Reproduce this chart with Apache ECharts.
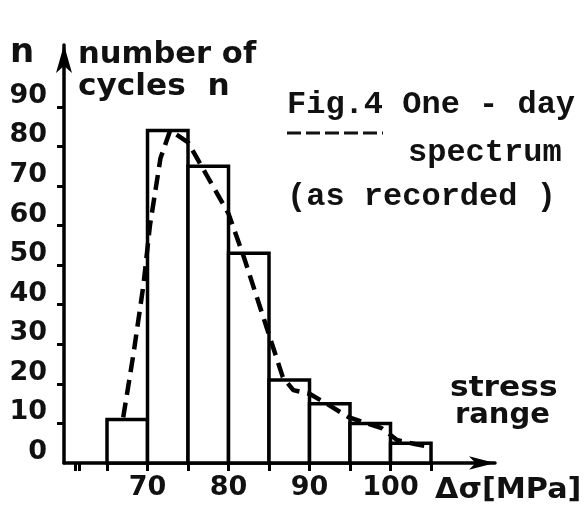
<!DOCTYPE html>
<html><head><meta charset="utf-8">
<script src="https://cdn.jsdelivr.net/npm/echarts@6/dist/echarts.min.js"></script>
<style>html,body{margin:0;padding:0;background:#fff}#c{width:584px;height:513px}</style>
</head><body><div id="c"></div>
<script>
// histogram bins (stress range, MPa) and number of cycles
const binStart = [65, 70, 75, 80, 85, 90, 95, 100];
const binEnd   = [70, 75, 80, 85, 90, 95, 100, 105];
const counts   = [11, 84, 75, 53, 21, 15, 10, 5];
// dashed spectrum curve (as recorded)
const dashX = [67, 68.3, 69.5, 70.3, 71.6, 72.8, 75, 77.5, 80, 81.9, 84.7, 86.7, 88, 90, 92.5, 94.8, 98.9, 100.8, 103, 105];
const dashY = [11.5, 28, 45, 60, 77, 84, 81, 72, 63, 52, 34.3, 21.7, 18.4, 17.5, 14.5, 11.6, 8.8, 5.8, 4.8, 4];
// axis ticks / labels
const xTickValues  = [61.1, 61.6, 65, 70, 75, 80, 85, 90, 95, 100, 105];
const xLabelValues = [70, 80, 90, 100];
const yTickValues  = [10, 20, 30, 40, 50, 60, 70, 80, 90];
const yLabelValues = [0, 10, 20, 30, 40, 50, 60, 70, 80, 90];

const SANS = '"DejaVu Sans", sans-serif';
const MONO = '"Liberation Mono", monospace';
const chart = echarts.init(document.getElementById('c'), null, {renderer: 'canvas'});

function txt(text, x, y, size, family, scaleX, weight) {
  return {
    type: 'text', x: x, y: y, scaleX: scaleX || 1, z: 100,
    style: {text: text, x: 0, y: 0, fill: '#111', font: (weight || 'normal') + ' ' + size + 'px ' + family,
            textAlign: 'left', textVerticalAlign: 'middle'}
  };
}

chart.setOption({
  backgroundColor: '#fff',
  animation: false,
  grid: {left: 64, top: 45, right: 89, bottom: 50, containLabel: false},
  xAxis: {
    type: 'value', min: 59.69, max: 112.9,
    axisLine: {show: true, onZero: false, symbol: ['none', 'arrow'], symbolSize: [10, 26],
               lineStyle: {color: '#000', width: 3.5}},
    axisTick: {show: true, customValues: xTickValues, length: 8, lineStyle: {color: '#000', width: 3}},
    axisLabel: {show: true, customValues: xLabelValues, fontSize: 27, fontWeight: 'bold', fontFamily: SANS,
                color: '#111', margin: 11},
    splitLine: {show: false}
  },
  yAxis: {
    type: 'value', min: 0, max: 105.6,
    axisLine: {show: true, onZero: false, symbol: ['none', 'arrow'], symbolSize: [12, 28],
               lineStyle: {color: '#000', width: 3.5}},
    axisTick: {show: true, customValues: yTickValues, length: 7, lineStyle: {color: '#000', width: 3}},
    axisLabel: {show: true, customValues: yLabelValues, fontSize: 27, fontWeight: 'bold', fontFamily: SANS,
                color: '#111', margin: 17, verticalAlign: 'bottom', lineHeight: 22},
    splitLine: {show: false}
  },
  series: [
    {
      type: 'custom', z: 2,
      data: binStart.map((s, i) => [s, binEnd[i], counts[i]]),
      encode: {x: [0, 1], y: 2},
      renderItem: function (params, api) {
        const p0 = api.coord([api.value(0), api.value(2)]);
        const p1 = api.coord([api.value(1), 0]);
        return {type: 'rect',
                shape: {x: p0[0], y: p0[1], width: p1[0] - p0[0], height: p1[1] - p0[1]},
                style: {fill: '#fff', stroke: '#000', lineWidth: 3.5}};
      }
    },
    {
      type: 'line', z: 5, symbol: 'none', showSymbol: false, smooth: false,
      data: dashX.map((x, i) => [x, dashY[i]]),
      lineStyle: {color: '#000', width: 4.5, type: [15, 8]}
    }
  ],
  graphic: [
    txt('n', 10, 53, 34, SANS, 1, 'bold'),
    txt('number of', 78, 55, 30, SANS, 1.02, 'bold'),
    txt('cycles  n', 78, 87, 30, SANS, 1.04, 'bold'),
    txt('Fig.4 One - day', 287, 105, 32, MONO, 1, 'bold'),
    {type: 'line', z: 100, shape: {x1: 287, y1: 133, x2: 383, y2: 133},
     style: {stroke: '#111', lineWidth: 3, lineDash: [14, 5]}},
    txt('spectrum', 408, 153, 32, MONO, 1, 'bold'),
    txt('(as recorded )', 287, 197, 32, MONO, 1, 'bold'),
    txt('stress', 450, 388, 29, SANS, 1.08, 'bold'),
    txt('range', 455, 415, 29, SANS, 1.0, 'bold'),
    txt('Δσ[MPa]', 435, 491, 28, SANS, 1.08, 'bold')
  ]
});
</script>
</body></html>
